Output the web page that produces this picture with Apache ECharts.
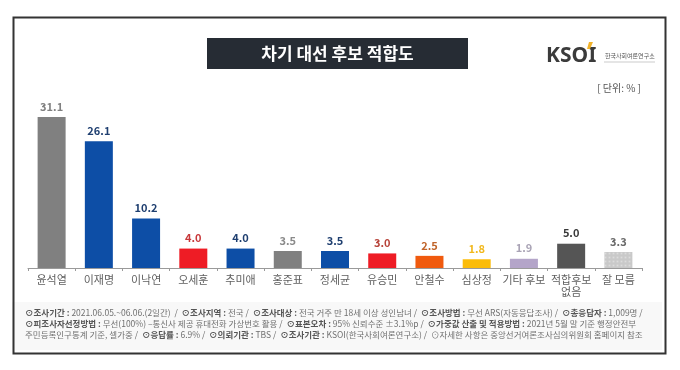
<!DOCTYPE html>
<html><head><meta charset="utf-8">
<script src="https://cdn.jsdelivr.net/npm/echarts@6/dist/echarts.min.js"></script>
<style>html,body{margin:0;padding:0;background:#fff}#c{width:680px;height:370px}</style>
</head><body><div id="c"></div>
<script>
const categories = ['윤석열','이재명','이낙연','오세훈','추미애','홍준표','정세균','유승민','안철수','심상정','기타 후보','적합후보\n없음','잘 모름'];
const values = [31.1, 26.1, 10.2, 4.0, 4.0, 3.5, 3.5, 3.0, 2.5, 1.8, 1.9, 5.0, 3.3];
const barColors = ['#808080','#0d4ea6','#0d4ea6','#ee1c25','#0d4ea6','#808080','#0d4ea6','#ee1c25','#f05a0e','#fbbc0a','#b4a5c9','#555555','#c9c9c9'];
const labelColors = ['#808080','#1f3f70','#1f3f70','#c8383a','#1f3f70','#8a8a8a','#1f3f70','#b8443a','#c0642a','#f2b81c','#a9a3b5','#3a3a3a','#6a6a6a'];
const titleText = '차기 대선 후보 적합도';
const unitText = '[ 단위: % ]';
const footerLines = [
  '{b|⊙조사기간 :} 2021.06.05.~06.06.(2일간)  /  {b|⊙조사지역 :} 전국 /  {b|⊙조사대상 :} 전국 거주 만 18세 이상 성인남녀 /  {b|⊙조사방법 :} 무선 ARS(자동응답조사) /  {b|⊙총응답자 :} 1,009명 /',
  '{b|⊙피조사자선정방법 :} 무선(100%) –통신사 제공 휴대전화 가상번호 활용 /  {b|⊙표본오차 :} 95% 신뢰수준 ±3.1%p /  {b|⊙가중값 산출 및 적용방법 :} 2021년 5월 말 기준 행정안전부',
  '주민등록인구통계 기준, 셀가중 /  {b|⊙응답률 :} 6.9% /  {b|⊙의뢰기관 :} TBS /  {b|⊙조사기관 :} KSOI(한국사회여론연구소) /  ⊙자세한 사항은 중앙선거여론조사심의위원회 홈페이지 참조'
];
const FF = '"Noto Sans CJK KR", "Noto Sans", sans-serif';
const chart = echarts.init(document.getElementById('c'), null, {renderer:'canvas'});
const data = values.map((v,i)=>{
  const d = {value:v, itemStyle:{color:barColors[i]}, label:{color:labelColors[i]}};
  if (i === values.length-1) d.itemStyle.decal = {symbol:'rect', symbolSize:0.6, dashArrayX:[3,1], dashArrayY:[3,1], color:'rgba(255,255,255,0.35)'};
  return d;
});
chart.setOption({
  animation:false,
  aria:{enabled:false},
  grid:{left:28, right:38, top:98, bottom:102, containLabel:false},
  xAxis:{type:'category', data:categories,
    axisLine:{lineStyle:{color:'#9a9a9a', width:1}},
    axisTick:{show:true, length:3, lineStyle:{color:'#9a9a9a'}},
    axisLabel:{color:'#5f5f5f', fontSize:11, fontFamily:FF, margin:6, interval:0, lineHeight:12}},
  yAxis:{type:'value', min:0, max:35, show:false},
  series:[{type:'bar', data:data, barWidth:28,
    label:{show:true, position:'top', distance:5, fontSize:11, fontWeight:'bold', fontFamily:FF, formatter:p=>p.value.toFixed(1)}}],
  graphic:[
    {type:'rect', left:11, top:15, shape:{width:652, height:336}, style:{fill:'none', stroke:'#333', lineWidth:2}, z:-1},
    {type:'rect', shape:{x:12, y:302, width:650, height:48}, style:{fill:'#f8f8f8'}, z:-2},
    {type:'rect', shape:{x:207, y:38, width:261, height:31}, style:{fill:'#262c34'}},
    {type:'text', x:337.5, y:53.5, style:{text:titleText, fill:'#fff', font:'bold 17px '+FF, textAlign:'center', textVerticalAlign:'middle'}},
    {type:'text', x:546, y:56, style:{text:'KSOI', fill:'#3b3b3b', font:'bold 21px "Noto Sans", sans-serif', textAlign:'left', textVerticalAlign:'middle'}},
    {type:'polygon', shape:{points:[[589,42],[593,42],[590,49],[587,49]]}, style:{fill:'#f2b32a'}},
    {type:'text', x:605, y:56, style:{text:'한국사회여론연구소', fill:'#555', font:'6px '+FF, textAlign:'left', textVerticalAlign:'middle'}},
    {type:'line', shape:{x1:604, y1:62, x2:655, y2:62}, style:{stroke:'#aaa', lineWidth:0.6}},
    {type:'text', x:641, y:88, style:{text:unitText, fill:'#555', font:'10px '+FF, textAlign:'right', textVerticalAlign:'middle'}},
  ].concat(footerLines.map((t,i)=>({type:'text', x:25, y:313+i*11, style:{text:t, fill:'#707070', font:'8.5px '+FF, textVerticalAlign:'middle', rich:{b:{fontWeight:'bold', fill:'#555', fontSize:8.5, fontFamily:FF}}}})))
});
</script></body></html>
